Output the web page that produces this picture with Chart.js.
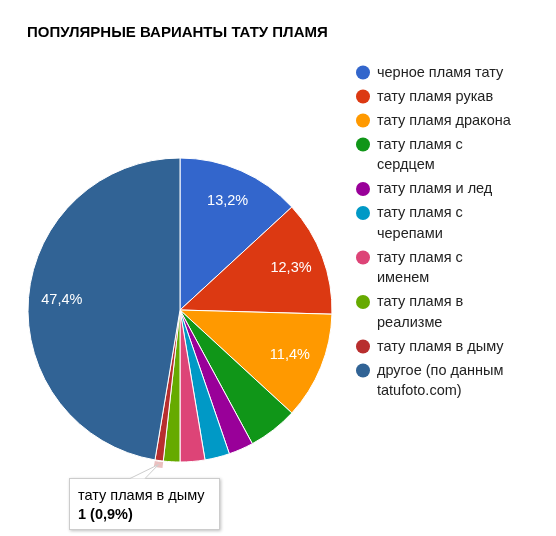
<!DOCTYPE html>
<html>
<head>
<meta charset="utf-8">
<script src="https://cdn.jsdelivr.net/npm/chart.js@4/dist/chart.umd.min.js"></script>
<style>
  html, body { margin: 0; padding: 0; background: #fff; }
  #wrap { width: 556px; height: 536px; }
</style>
</head>
<body>
<div id="wrap"><canvas id="tattooPie" width="556" height="536"></canvas></div>
<script>
const chartTitle = 'ПОПУЛЯРНЫЕ ВАРИАНТЫ ТАТУ ПЛАМЯ';
const categories = [
    'черное пламя тату',
    'тату пламя рукав',
    'тату пламя дракона',
    'тату пламя с сердцем',
    'тату пламя и лед',
    'тату пламя с черепами',
    'тату пламя с именем',
    'тату пламя в реализме',
    'тату пламя в дыму',
    'другое (по данным tatufoto.com)'
];
const counts = [15, 14, 13, 6, 3, 3, 3, 2, 1, 54];
const sliceColors = ['#3366cc', '#dc3912', '#ff9900', '#109618', '#990099',
    '#0099c6', '#dd4477', '#66aa00', '#b82e2e', '#316395'];
const hoveredIndex = 8;

const FONT = '"Liberation Sans", Arial, sans-serif';
const total = counts.reduce((a, b) => a + b, 0);
const pctText = v => (v / total * 100).toFixed(1).replace('.', ',') + '%';

function wrapWords(ctx, text, maxWidth) {
    const words = text.split(' ');
    const lines = [];
    let line = '';
    words.forEach(w => {
        const test = line ? line + ' ' + w : w;
        if (line && ctx.measureText(test).width > maxWidth) {
            lines.push(line);
            line = w;
        } else {
            line = test;
        }
    });
    if (line) lines.push(line);
    return lines;
}

// title, slice labels, legend, hover ring and the tooltip box
const decorations = {
    id: 'decorations',
    afterDatasetsDraw(chart) {
        const ctx = chart.ctx;
        const arcs = chart.getDatasetMeta(0).data;
        ctx.save();

        ctx.fillStyle = '#000';
        ctx.font = 'bold 15px ' + FONT;
        ctx.textBaseline = 'middle';
        ctx.textAlign = 'left';
        ctx.fillText(chartTitle, 27, 33);

        // percent labels inside the big slices
        ctx.font = '14.5px ' + FONT;
        ctx.fillStyle = '#fff';
        ctx.textAlign = 'center';
        arcs.forEach((arc, i) => {
            if (counts[i] / total < 0.1) return;
            const mid = (arc.startAngle + arc.endAngle) / 2;
            const r = arc.outerRadius * 0.78;
            ctx.fillText(pctText(counts[i]), arc.x + Math.cos(mid) * r, arc.y + Math.sin(mid) * r);
        });

        // legend
        ctx.textAlign = 'left';
        let y = 72.5;
        categories.forEach((name, i) => {
            ctx.beginPath();
            ctx.arc(363, y, 7, 0, Math.PI * 2);
            ctx.fillStyle = sliceColors[i];
            ctx.fill();
            ctx.fillStyle = '#222';
            const lines = wrapWords(ctx, name, 138);
            lines.forEach((ln, k) => ctx.fillText(ln, 377, y + k * 20.5));
            y += 24 + (lines.length - 1) * 20.5;
        });

        // hover ring on the selected slice
        const h = arcs[hoveredIndex];
        ctx.beginPath();
        ctx.arc(h.x, h.y, h.outerRadius + 7, h.startAngle, h.endAngle);
        ctx.arc(h.x, h.y, h.outerRadius + 1, h.endAngle, h.startAngle, true);
        ctx.closePath();
        ctx.fillStyle = 'rgba(184, 46, 46, 0.3)';
        ctx.fill();

        // tooltip
        const bx = 69, by = 478, bw = 151, bh = 52;
        const mid = (h.startAngle + h.endAngle) / 2;
        const tipX = h.x + Math.cos(mid) * (h.outerRadius + 4);
        const tipY = h.y + Math.sin(mid) * (h.outerRadius + 4);
        ctx.save();
        ctx.shadowColor = 'rgba(0,0,0,0.25)';
        ctx.shadowBlur = 3;
        ctx.shadowOffsetX = 1;
        ctx.shadowOffsetY = 1;
        ctx.fillStyle = '#fff';
        ctx.fillRect(bx, by, bw, bh);
        ctx.restore();
        ctx.strokeStyle = '#cccccc';
        ctx.lineWidth = 1;
        ctx.strokeRect(bx + 0.5, by + 0.5, bw - 1, bh - 1);
        ctx.beginPath();
        ctx.moveTo(130, by + 0.5);
        ctx.lineTo(tipX, tipY);
        ctx.lineTo(145, by + 0.5);
        ctx.closePath();
        ctx.fillStyle = '#fff';
        ctx.fill();
        ctx.beginPath();
        ctx.moveTo(130, by + 0.5);
        ctx.lineTo(tipX, tipY);
        ctx.lineTo(145, by + 0.5);
        ctx.stroke();

        ctx.fillStyle = '#000';
        ctx.font = '14.5px ' + FONT;
        ctx.fillText(categories[hoveredIndex], 78, 496);
        ctx.font = 'bold 14.5px ' + FONT;
        ctx.fillText(counts[hoveredIndex] + ' (' + pctText(counts[hoveredIndex]) + ')', 78, 515);

        ctx.restore();
    }
};

new Chart(document.getElementById('tattooPie').getContext('2d'), {
    type: 'pie',
    data: {
        labels: categories,
        datasets: [{
            data: counts,
            backgroundColor: sliceColors,
            borderColor: '#ffffff',
            borderWidth: 1,
            radius: 152
        }]
    },
    options: {
        responsive: false,
        animation: false,
        events: [],
        layout: { padding: { left: 28, top: 158, right: 224, bottom: 74 } },
        plugins: {
            legend: { display: false },
            tooltip: { enabled: false },
            title: { display: false }
        }
    },
    plugins: [decorations]
});
</script>
</body>
</html>
